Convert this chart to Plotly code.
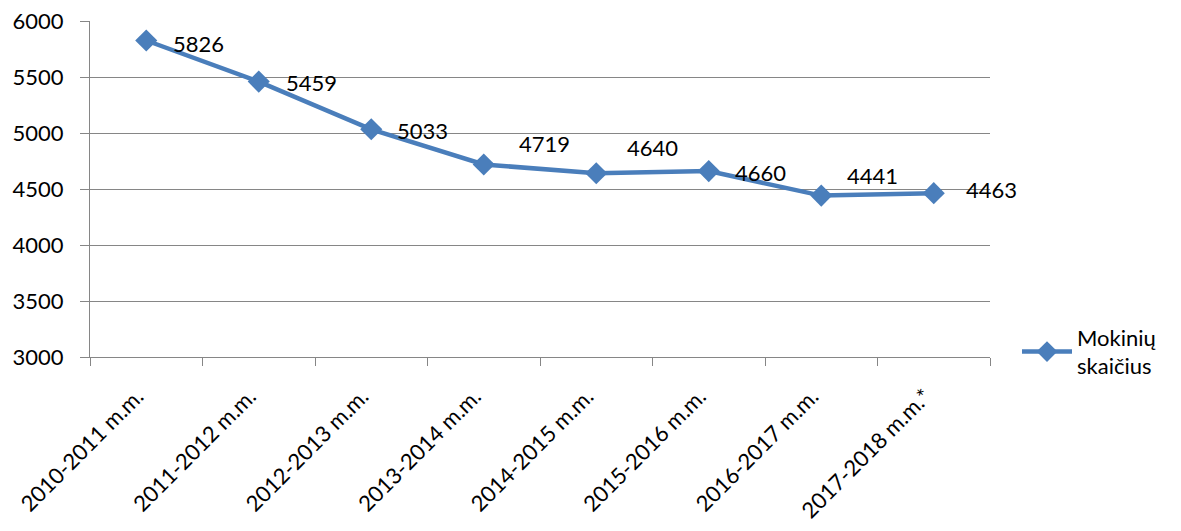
import plotly.graph_objects as go

categories = ["2010-2011 m.m.", "2011-2012 m.m.", "2012-2013 m.m.", "2013-2014 m.m.",
              "2014-2015 m.m.", "2015-2016 m.m.", "2016-2017 m.m.", "2017-2018 m.m.*"]
values = [5826, 5459, 5033, 4719, 4640, 4660, 4441, 4463]
series_name = "Mokinių<br>skaičius"

# label offsets in pixels (style only)
label_dx = [25, 25, 24, 33, 29, 24, 24, 30]
label_dy = [-3, -1, -1, 21, 26, -1, 20, 4]

FONT = "Lato, 'Open Sans', sans-serif"
BLUE = "#4A7EBB"
GRID = "#868686"

fig = go.Figure()
fig.add_trace(go.Scatter(
    x=categories, y=values, mode="lines+markers", name=series_name,
    line=dict(color=BLUE, width=4.5),
    marker=dict(symbol="diamond", size=17, color=BLUE),
))

for c, v, dx, dy in zip(categories, values, label_dx, label_dy):
    fig.add_annotation(x=c, y=v, text=str(v), showarrow=False, xanchor="left",
                       yanchor="middle", xshift=dx, yshift=dy,
                       font=dict(family=FONT, size=22, color="black"))

fig.update_layout(
    width=1181, height=531,
    margin=dict(l=90, r=191, t=21, b=174, autoexpand=False),
    paper_bgcolor="white", plot_bgcolor="white",
    font=dict(family=FONT, color="black"),
    showlegend=True,
    legend=dict(x=1.03, y=0.015, xanchor="left", yanchor="middle",
                font=dict(family=FONT, size=22, color="black"),
                bgcolor="rgba(0,0,0,0)", itemwidth=50),
    xaxis=dict(type="category", range=[-0.5, 7.5], tickson="boundaries",
               showgrid=False, showline=True, linecolor=GRID, linewidth=1,
               ticks="outside", ticklen=8, tickcolor=GRID, automargin=False,
               tickangle=-45, ticklabelstandoff=17, ticklabelshift=-9,
               tickfont=dict(family=FONT, size=22, color="black"),
               zeroline=False),
    yaxis=dict(range=[3000, 6000], dtick=500, showgrid=True, gridcolor=GRID, gridwidth=1,
               showline=True, linecolor=GRID, linewidth=1, automargin=False,
               ticks="outside", ticklen=9, tickcolor=GRID, ticklabelstandoff=12,
               tickfont=dict(family=FONT, size=22, color="black"), zeroline=False),
)

fig.write_html("out.html", config={"displayModeBar": False},
               post_script="document.body.style.margin='0';document.body.style.overflow='hidden';")
